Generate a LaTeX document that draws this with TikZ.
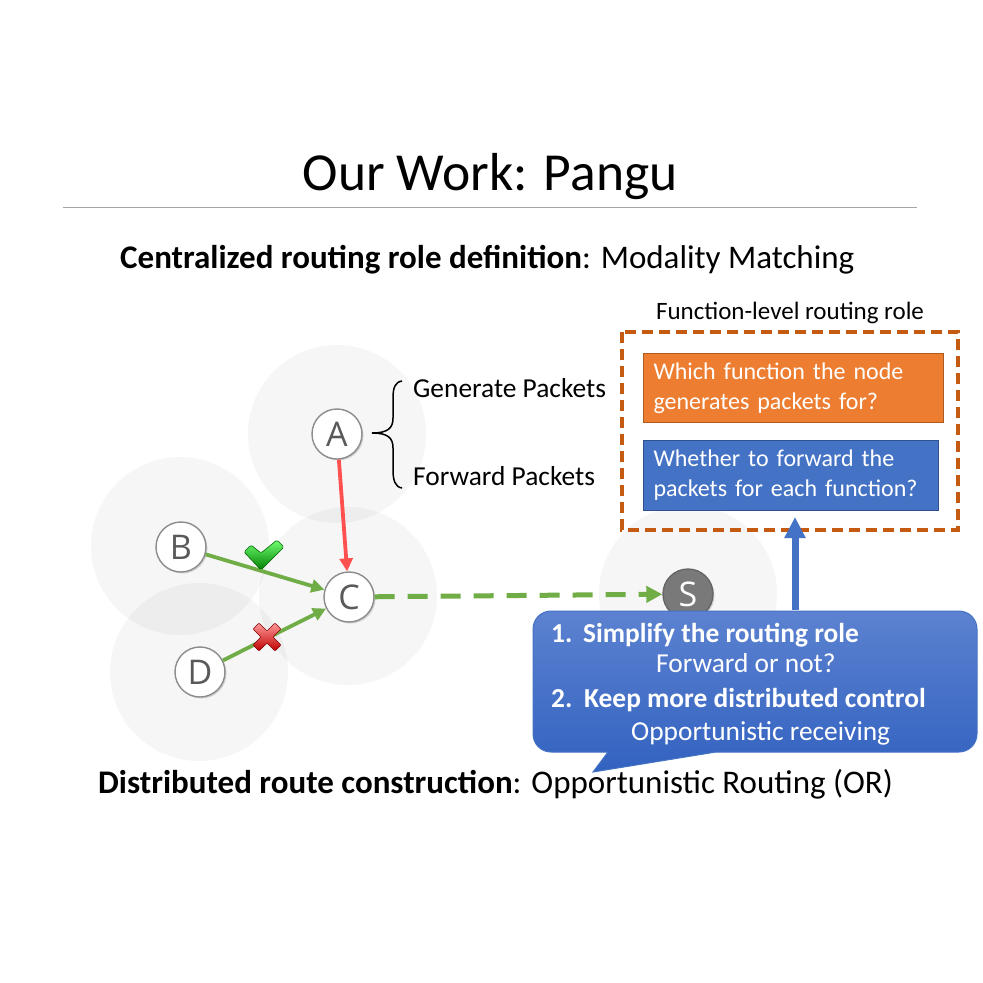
\documentclass[tikz,border=0pt]{standalone}
\usepackage{fontspec}
\setmainfont{Carlito}
\newfontfamily\letterfont{Open Sans}
\usetikzlibrary{arrows.meta,shadows}
\definecolor{ggreen}{HTML}{70AD47}
\definecolor{rred}{HTML}{FF5050}
\definecolor{oorange}{HTML}{ED7D31}
\definecolor{oborder}{HTML}{AE5A21}
\definecolor{odash}{HTML}{C55A11}
\definecolor{bblue}{HTML}{4472C4}
\definecolor{bborder}{HTML}{2F528F}
\definecolor{calltop}{HTML}{5C82D0}
\definecolor{callbot}{HTML}{3262C0}
\definecolor{lettergray}{HTML}{595959}
\begin{document}
\begin{tikzpicture}[x=1pt,y=-1pt,
  rangec/.style={fill=black,fill opacity=0.035,draw=none},
  netnode/.style={circle,minimum size=50pt,inner sep=0pt,fill=white,draw=gray!90,line width=1.4pt,
     font=\letterfont\fontsize{34}{34}\selectfont,text=lettergray,
     drop shadow={shadow xshift=1.5pt,shadow yshift=-1.5pt,opacity=0.3}},
  txt/.style={inner sep=0pt,anchor=base west},
  arr/.style={line width=3.8pt,-{Triangle[length=13pt,width=13pt]}},
  rolebox/.style={draw,line width=1pt,text=white,align=left,inner sep=0pt,
     font=\fontsize{24}{30}\selectfont},
  call/.style={draw=bblue,line width=1pt,top color=calltop,bottom color=callbot},
  calltxt/.style={inner sep=0pt,anchor=base west,text=white,font=\fontsize{27.4}{30}\selectfont},
  callbold/.style={calltxt,font=\bfseries\fontsize{27.4}{30}\selectfont}
]
\useasboundingbox (0,0) rectangle (983,983);
\fill[white] (0,0) rectangle (983,983);

% title
\node[inner sep=0pt,anchor=base,font=\fontsize{53.5}{60}\selectfont] (title) at (490,190) {Our Work: Pangu};
\draw[gray!70,line width=1pt] (63,207) coordinate (rl) -- (917,207) coordinate (rr);
\node[txt,font=\fontsize{33}{38}\selectfont] (sub) at (120,268) {\textbf{Centralized routing role definition}: Modality Matching};

% ranges
\fill[rangec] (337,434) circle (89);
\fill[rangec] (180,546) circle (89);
\fill[rangec] (199,672) circle (89);
\fill[rangec] (348,596) circle (89);
\fill[rangec] (688,594) circle (89);

% nodes
\node[netnode] (A) at (337,434) {A};
\node[netnode] (B) at (181,547) {B};
\node[netnode] (C) at (349,597) {C};
\node[netnode] (D) at (200,672) {D};
\node[netnode,fill=gray!95!black,draw=gray!80!black,text=white] (S) at (688,594) {S};

% arrows
\draw[arr,rred] (A) -- (C);
\draw[arr,ggreen] (B) -- (C);
\draw[arr,ggreen] (D) -- (C);
\draw[ggreen,line width=5pt,dash pattern=on 20pt off 13pt,-{Triangle[length=16pt,width=16pt]}] (C) -- (S);

% check mark
\path[draw=green!40!black,line width=0.6pt,top color=green!55!white,bottom color=green!50!black,rounded corners=1.5pt]
  (244,552) -- (251,545) -- (261,553) -- (277,540) -- (284,547) -- (261,570) -- cycle;
% cross
\begin{scope}[shift={(267,637)}]
\path[draw=red!50!black,line width=0.6pt,top color=red!40!white,bottom color=red!75!black,rounded corners=1pt]
  (-14,-8) -- (-8,-14) -- (0,-6) -- (8,-14) -- (14,-8) -- (6,0) -- (14,8) -- (8,14) -- (0,6) -- (-8,14) -- (-14,8) -- (-6,0) -- cycle;
\end{scope}

% brace
\coordinate (bt) at (372,433);
\draw[line width=1.5pt] (402,381) .. controls (395,382) and (393,388) .. (393,398) -- (393,418) .. controls (393,428) and (388,433) .. (bt);
\draw[line width=1.5pt] (bt) .. controls (388,433) and (393,438) .. (393,448) -- (393,470) .. controls (393,480) and (395,487) .. (402,488);
\node[txt,font=\fontsize{27.4}{30}\selectfont] (gen) at (413,397) {Generate Packets};
\node[txt,font=\fontsize{27.4}{30}\selectfont] (fwd) at (413,485) {Forward Packets};

% function-level role
\node[inner sep=0pt,anchor=base,font=\fontsize{25}{28}\selectfont] (fl) at (790,319) {Function-level routing role};
\draw[odash,line width=4pt,dash pattern=on 11pt off 6pt] (622,332) rectangle (958,530);
\node[rolebox,fill=oorange,draw=oborder,minimum width=300pt,minimum height=69pt,anchor=north west,text width=280pt] (ob) at (643,353)
  {Which function the node\\generates packets for?};
\node[rolebox,fill=bblue,draw=bborder,minimum width=295pt,minimum height=70pt,anchor=north west,text width=275pt] (bb) at (643,440)
  {Whether to forward the\\packets for each function?};

% blue arrow
\coordinate (ab) at (795,610);
\coordinate (at) at (795,517);
\draw[bblue,line width=7pt,-{Triangle[length=21pt,width=20pt]}] (ab) -- (at);

% callout
\path[call] (593,772) -- (608,752) [rounded corners=18pt] -- (533,752) -- (533,611) -- (977,611) -- (977,752) [sharp corners] -- (716,752) -- cycle;
\node[callbold] (n1) at (551,642) {1.};
\node[callbold] (c1) at (583,642) {Simplify the routing role};
\node[calltxt] (c2) at (656,672) {Forward or not?};
\node[callbold] (n2) at (551,707) {2.};
\node[callbold] (c3) at (584,707) {Keep more distributed control};
\node[calltxt] (c4) at (631,740) {Opportunistic receiving};

% bottom text
\node[txt,font=\fontsize{33}{38}\selectfont] (bot) at (98,793) {\textbf{Distributed route construction}: Opportunistic Routing (OR)};
\end{tikzpicture}
\end{document}
